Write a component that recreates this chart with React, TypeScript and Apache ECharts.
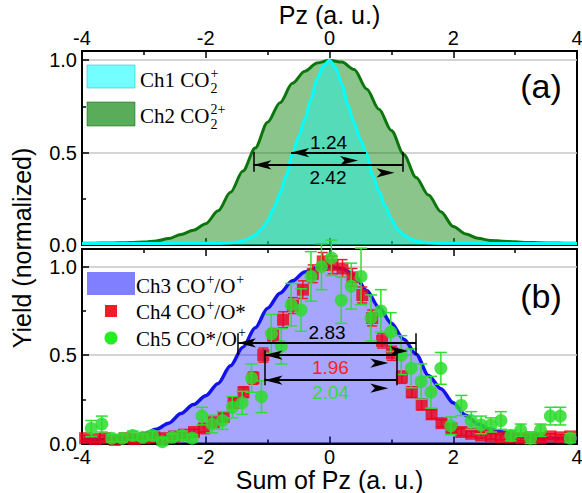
import React, { useEffect, useRef } from "react";
import * as echarts from "echarts";

const SANS = "'Liberation Sans', Arial, sans-serif";
const SERIF = "'Liberation Serif', 'Times New Roman', serif";

// ---- axis ticks ----
const xTickValues = [-4, -2, 0, 2, 4];
const yTickValues = [0, 0.5, 1.0];

// ---- (a) Ch1 CO2+ ----
const ch1X = [-4, -3, -2.4, -2.0, -1.8, -1.6, -1.5, -1.4, -1.3, -1.2, -1.1, -1.0, -0.9, -0.8, -0.7, -0.6, -0.5, -0.4, -0.3, -0.2, -0.1, 0, 0.1, 0.2, 0.3, 0.4, 0.5, 0.6, 0.7, 0.8, 0.9, 1.0, 1.1, 1.2, 1.3, 1.4, 1.5, 1.6, 1.8, 2.0, 2.4, 3, 4];
const ch1Y = [0.008, 0.008, 0.009, 0.01, 0.01, 0.012, 0.015, 0.022, 0.035, 0.055, 0.085, 0.13, 0.2, 0.28, 0.375, 0.49, 0.585, 0.68, 0.79, 0.9, 0.97, 1.0, 0.96, 0.87, 0.755, 0.66, 0.57, 0.49, 0.375, 0.29, 0.21, 0.14, 0.085, 0.055, 0.034, 0.022, 0.015, 0.012, 0.01, 0.01, 0.009, 0.008, 0.008];

// ---- (a) Ch2 CO2 2+ ----
const ch2X = [-4, -3.8, -3.6, -3.4, -3.2, -3.0, -2.8, -2.6, -2.4, -2.2, -2.0, -1.8, -1.6, -1.4, -1.2, -1.0, -0.8, -0.6, -0.4, -0.2, 0, 0.2, 0.4, 0.6, 0.8, 1.0, 1.2, 1.4, 1.6, 1.8, 2.0, 2.2, 2.4, 2.6, 2.8, 3.0, 3.2, 3.4, 3.6, 3.8, 4.0];
const ch2Y = [0.01, 0.01, 0.011, 0.012, 0.013, 0.016, 0.022, 0.035, 0.057, 0.08, 0.115, 0.185, 0.285, 0.4, 0.525, 0.665, 0.77, 0.875, 0.94, 0.985, 1.0, 0.99, 0.95, 0.845, 0.735, 0.62, 0.49, 0.365, 0.27, 0.18, 0.1, 0.06, 0.036, 0.025, 0.02, 0.017, 0.014, 0.012, 0.011, 0.01, 0.01];

// ---- (b) Ch3 CO+/O+ ----
const ch3X = [-4, -3.8, -3.6, -3.4, -3.2, -3.0, -2.8, -2.6, -2.4, -2.2, -2.0, -1.8, -1.6, -1.4, -1.2, -1.0, -0.8, -0.6, -0.4, -0.2, 0, 0.2, 0.4, 0.6, 0.8, 1.0, 1.2, 1.4, 1.6, 1.8, 2.0, 2.2, 2.4, 2.6, 2.8, 3.0, 3.2, 3.4, 3.6, 3.8, 4.0];
const ch3Y = [0.02, 0.02, 0.025, 0.03, 0.04, 0.055, 0.08, 0.115, 0.17, 0.22, 0.27, 0.34, 0.44, 0.545, 0.655, 0.765, 0.85, 0.92, 0.97, 0.995, 1.0, 0.99, 0.955, 0.865, 0.77, 0.68, 0.59, 0.505, 0.385, 0.31, 0.23, 0.16, 0.11, 0.08, 0.065, 0.045, 0.035, 0.03, 0.03, 0.03, 0.03];

// ---- (b) Ch4 CO+/O* ----
const ch4X = [-3.95, -3.79, -3.63, -3.47, -3.31, -3.15, -2.99, -2.83, -2.67, -2.51, -2.35, -2.19, -2.03, -1.87, -1.71, -1.55, -1.39, -1.23, -1.07, -0.91, -0.75, -0.59, -0.43, -0.27, -0.11, 0.05, 0.21, 0.37, 0.53, 0.69, 0.85, 1.01, 1.17, 1.33, 1.49, 1.65, 1.81, 1.97, 2.13, 2.29, 2.45, 2.61, 2.77, 2.93, 3.09, 3.25, 3.41, 3.57, 3.73, 3.89];
const ch4Y = [0.03, 0.025, 0.03, 0.02, 0.03, 0.025, 0.03, 0.035, 0.03, 0.04, 0.05, 0.065, 0.085, 0.12, 0.15, 0.23, 0.29, 0.37, 0.5, 0.61, 0.7, 0.78, 0.87, 0.96, 1.03, 1.01, 0.99, 0.94, 0.84, 0.71, 0.58, 0.51, 0.375, 0.29, 0.22, 0.165, 0.115, 0.085, 0.065, 0.055, 0.045, 0.04, 0.035, 0.035, 0.03, 0.035, 0.03, 0.04, 0.035, 0.04];
const ch4Err = [0.015, 0.015, 0.015, 0.015, 0.015, 0.015, 0.015, 0.015, 0.015, 0.015, 0.015, 0.015, 0.02, 0.02, 0.025, 0.03, 0.03, 0.035, 0.04, 0.04, 0.045, 0.045, 0.05, 0.05, 0.05, 0.05, 0.05, 0.05, 0.045, 0.045, 0.04, 0.04, 0.035, 0.03, 0.03, 0.025, 0.02, 0.02, 0.02, 0.015, 0.015, 0.015, 0.015, 0.015, 0.015, 0.015, 0.015, 0.015, 0.015, 0.015];

// ---- (b) Ch5 CO*/O+ ----
const ch5X = [-3.85, -3.68, -3.52, -3.35, -3.18, -3.02, -2.86, -2.7, -2.54, -2.38, -2.22, -2.06, -1.9, -1.73, -1.57, -1.41, -1.26, -1.1, -0.94, -0.78, -0.62, -0.46, -0.3, -0.13, 0.03, 0.19, 0.35, 0.51, 0.67, 0.83, 0.99, 1.16, 1.32, 1.48, 1.64, 1.8, 1.96, 2.13, 2.29, 2.45, 2.61, 2.77, 2.93, 3.09, 3.25, 3.41, 3.57, 3.73, 3.89];
const ch5Y = [0.085, 0.11, 0.03, 0.03, 0.045, 0.035, 0.045, 0.01, 0.035, 0.045, 0.03, 0.155, 0.11, 0.13, 0.205, 0.23, 0.37, 0.265, 0.62, 0.55, 0.785, 0.755, 0.945, 1.0, 1.05, 0.81, 0.89, 0.945, 0.71, 0.75, 0.63, 0.5, 0.425, 0.35, 0.29, 0.425, 0.1, 0.215, 0.13, 0.105, 0.105, 0.13, 0.045, 0.075, 0.03, 0.075, 0.155, 0.155, 0.03];
const ch5Err = [0.045, 0.045, 0.02, 0.02, 0.025, 0.02, 0.025, 0.02, 0.02, 0.025, 0.02, 0.05, 0.05, 0.05, 0.06, 0.065, 0.08, 0.09, 0.11, 0.1, 0.12, 0.12, 0.14, 0.13, 0.1, 0.13, 0.13, 0.16, 0.13, 0.12, 0.11, 0.11, 0.11, 0.1, 0.09, 0.09, 0.05, 0.057, 0.05, 0.05, 0.04, 0.05, 0.03, 0.035, 0.03, 0.035, 0.05, 0.05, 0.025];

// ---- FWHM annotations (data coordinates) ----
const fwhmTop = [
  { label: "1.24", x1: -0.62, x2: 0.59, y: 0.5, side: "above", color: "#000000" },
  { label: "2.42", x1: -1.23, x2: 1.18, y: 0.434, side: "below", color: "#000000" },
];
const barsTop = [
  { x: -1.23, y1: 0.397, y2: 0.505 },
  { x: 1.18, y1: 0.397, y2: 0.505 },
];
const fwhmBottom = [
  { label: "2.83", x1: -1.48, x2: 1.4, y: 0.569, side: "above", color: "#000000" },
  { label: "1.96", x1: -1.05, x2: 1.08, y: 0.5, side: "below", color: "#ff1f1f" },
  { label: "2.04", x1: -1.05, x2: 1.08, y: 0.358, side: "below", color: "#33dd33" },
];
const barsBottom = [
  { x: -1.48, y1: 0.5, y2: 0.624 },
  { x: 1.4, y1: 0.5, y2: 0.624 },
  { x: -1.05, y1: 0.33, y2: 0.528 },
  { x: 1.08, y1: 0.33, y2: 0.528 },
];

const zip = (xs: number[], ys: number[]) => xs.map((x, i) => [x, ys[i]]);

let ctx2d: CanvasRenderingContext2D | null = null;
const measure = (t: string, size: number, fam: string) => {
  if (!ctx2d) ctx2d = document.createElement("canvas").getContext("2d");
  if (!ctx2d) return t.length * size * 0.5;
  ctx2d.font = `${size}px ${fam}`;
  return ctx2d.measureText(t).width;
};

type Part = { n?: string; sup?: string; sub?: string };
const LF = 21;
const SF = 14;
const legendText = (x0: number, yc: number, parts: Part[]) => {
  const els: any[] = [];
  let x = x0;
  for (const p of parts) {
    if (p.n) {
      els.push({ type: "text", x, y: yc, style: { text: p.n, fontSize: LF, fontFamily: SERIF, fill: "#000", textAlign: "left", textVerticalAlign: "middle" } });
      x += measure(p.n, LF, SERIF);
    } else {
      let w = 0;
      if (p.sup) {
        els.push({ type: "text", x: x + 1, y: yc - 7, style: { text: p.sup, fontSize: SF, fontFamily: SERIF, fill: "#000", textAlign: "left", textVerticalAlign: "middle" } });
        w = Math.max(w, measure(p.sup, SF, SERIF));
      }
      if (p.sub) {
        els.push({ type: "text", x: x + 1, y: yc + 8, style: { text: p.sub, fontSize: SF, fontFamily: SERIF, fill: "#000", textAlign: "left", textVerticalAlign: "middle" } });
        w = Math.max(w, measure(p.sub, SF, SERIF));
      }
      x += w + 1;
    }
  }
  return els;
};

const markLineData = (arrows: any[], bars: any[]) => [
  ...arrows.map((a) => [
    {
      coord: [a.x1, a.y],
      symbol: "arrow",
      lineStyle: { color: "#000", width: 2 },
      label: {
        show: true,
        formatter: a.label,
        position: a.side === "above" ? "insideMiddleTop" : "insideMiddleBottom",
        distance: a.side === "above" ? 1 : 3,
        color: a.color,
        fontSize: 19,
        fontFamily: SANS,
      },
    },
    { coord: [a.x2, a.y], symbol: "arrow" },
  ]),
  ...bars.map((b) => [
    { coord: [b.x, b.y1], symbol: "none", label: { show: false }, lineStyle: { color: "#000", width: 1.5 } },
    { coord: [b.x, b.y2], symbol: "none" },
  ]),
];

const markLineBase = {
  silent: true,
  animation: false,
  symbolSize: [7, 18],
  symbolOffset: [0, 8],
  lineStyle: { color: "#000", width: 2, type: "solid" },
  label: { show: false },
  emphasis: { disabled: true },
};

const errorBarSeries = (xs: number[], ys: number[], es: number[], color: string, capHalf: number, xi: number, yi: number, z: number) => ({
  type: "custom",
  xAxisIndex: xi,
  yAxisIndex: yi,
  z,
  silent: true,
  data: xs.map((x, i) => [x, ys[i] - es[i], ys[i] + es[i]]),
  encode: { x: 0, y: [1, 2] },
  renderItem: (_params: any, api: any) => {
    const x = api.value(0);
    const lo = api.coord([x, api.value(1)]);
    const hi = api.coord([x, api.value(2)]);
    const st = { stroke: color, lineWidth: 1.5 };
    return {
      type: "group",
      children: [
        { type: "line", shape: { x1: lo[0], y1: lo[1], x2: hi[0], y2: hi[1] }, style: st },
        { type: "line", shape: { x1: lo[0] - capHalf, y1: lo[1], x2: lo[0] + capHalf, y2: lo[1] }, style: st },
        { type: "line", shape: { x1: hi[0] - capHalf, y1: hi[1], x2: hi[0] + capHalf, y2: hi[1] }, style: st },
      ],
    };
  },
});

const axisLine = { show: true, onZero: false, lineStyle: { color: "#000", width: 2 } };
const axisTick = { show: true, inside: true, length: 7, lineStyle: { color: "#000", width: 1.5 } };
const minorTick = { show: true, splitNumber: 2, length: 4, lineStyle: { color: "#000", width: 1.5 } };
const tickFont = { fontSize: 20, color: "#000", fontFamily: SANS };
const titleFont = { fontSize: 25, color: "#000", fontFamily: SANS };

const xAxis = (gridIndex: number, position: string, showLabels: boolean, name?: string, nameGap?: number) => ({
  type: "value",
  gridIndex,
  position,
  min: -4,
  max: 4,
  interval: 2,
  axisLine,
  axisTick,
  minorTick,
  splitLine: { show: false },
  axisLabel: {
    show: showLabels,
    ...tickFont,
    margin: 3,
    formatter: (v: number) => (xTickValues.includes(v) ? String(v) : ""),
  },
  name: name || "",
  nameLocation: "middle",
  nameGap: nameGap || 0,
  nameTextStyle: titleFont,
});

const yAxis = (gridIndex: number, max: number) => ({
  type: "value",
  gridIndex,
  min: 0,
  max,
  interval: 0.5,
  axisLine,
  axisTick,
  minorTick,
  splitLine: { show: true, lineStyle: { color: "#c6c6c6", width: 1.5 } },
  axisLabel: {
    ...tickFont,
    margin: 5,
    formatter: (v: number) => (yTickValues.some((t) => Math.abs(t - v) < 1e-9) ? v.toFixed(1) : ""),
  },
});

export default function App() {
  const ref = useRef<HTMLDivElement>(null);
  useEffect(() => {
    document.body.style.margin = "0";
    const chart = echarts.init(ref.current!, null, { renderer: "svg" });

    const graphics: any[] = [
      {
        type: "text",
        x: 22,
        y: 248,
        rotation: Math.PI / 2,
        style: { text: "Yield (normalized)", ...titleFont, fill: "#000", textAlign: "center", textVerticalAlign: "middle" },
      },
      { type: "text", x: 541, y: 86, style: { text: "(a)", fontSize: 34, fontFamily: SANS, fill: "#000", textAlign: "center", textVerticalAlign: "middle" } },
      { type: "text", x: 541, y: 296, style: { text: "(b)", fontSize: 34, fontFamily: SANS, fill: "#000", textAlign: "center", textVerticalAlign: "middle" } },
      // legend (a)
      { type: "rect", shape: { x: 87, y: 65, width: 48, height: 23 }, style: { fill: "rgba(0,255,255,0.55)", stroke: "rgba(0,190,190,0.5)", lineWidth: 1 } },
      { type: "rect", shape: { x: 87, y: 102, width: 48, height: 24 }, style: { fill: "rgba(0,128,0,0.65)", stroke: "rgba(0,100,0,0.5)", lineWidth: 1 } },
      ...legendText(140, 80, [{ n: "Ch1 CO" }, { sup: "+", sub: "2" }]),
      ...legendText(140, 116, [{ n: "Ch2 CO" }, { sup: "2+", sub: "2" }]),
      // legend (b)
      { type: "rect", shape: { x: 87, y: 272, width: 48, height: 23 }, style: { fill: "rgba(0,0,255,0.5)" } },
      { type: "rect", shape: { x: 105, y: 305, width: 12, height: 12 }, style: { fill: "#f01c28" } },
      { type: "circle", shape: { cx: 111, cy: 338, r: 6.5 }, style: { fill: "#22ee22" } },
      ...legendText(136, 286, [{ n: "Ch3 CO" }, { sup: "+" }, { n: "/O" }, { sup: "+" }]),
      ...legendText(136, 312, [{ n: "Ch4 CO" }, { sup: "+" }, { n: "/O*" }]),
      ...legendText(136, 339, [{ n: "Ch5 CO*/O" }, { sup: "+" }]),
    ];

    const option: any = {
      animation: false,
      backgroundColor: "#ffffff",
      grid: [
        { left: 82, top: 51, width: 495, height: 194, show: true, borderColor: "#000", borderWidth: 2, backgroundColor: "transparent", containLabel: false, outerBoundsMode: "none" },
        { left: 82, top: 249, width: 495, height: 194.5, show: true, borderColor: "#000", borderWidth: 2, backgroundColor: "transparent", containLabel: false, outerBoundsMode: "none" },
      ],
      xAxis: [
        xAxis(0, "bottom", false),
        xAxis(0, "top", true, "Pz (a. u.)", 23),
        xAxis(1, "bottom", true, "Sum of Pz (a. u.)", 21),
        xAxis(1, "top", false),
      ],
      yAxis: [yAxis(0, 1.05), yAxis(1, 1.1)],
      series: [
        {
          name: "Ch2",
          type: "line",
          xAxisIndex: 1,
          yAxisIndex: 0,
          z: 1,
          data: zip(ch2X, ch2Y),
          showSymbol: false,
          smooth: 0.3,
          smoothMonotone: "x",
          lineStyle: { color: "#0b760b", width: 3 },
          areaStyle: { color: "rgba(0,128,0,0.65)" },
          silent: true,
        },
        {
          name: "Ch1",
          type: "line",
          xAxisIndex: 1,
          yAxisIndex: 0,
          z: 2,
          data: zip(ch1X, ch1Y),
          showSymbol: false,
          smooth: 0.3,
          smoothMonotone: "x",
          lineStyle: { color: "#00ffff", width: 3 },
          areaStyle: { color: "rgba(0,255,255,0.55)" },
          silent: true,
          markLine: { ...markLineBase, data: markLineData(fwhmTop, barsTop) },
        },
        {
          name: "Ch3",
          type: "line",
          xAxisIndex: 2,
          yAxisIndex: 1,
          z: 1,
          data: zip(ch3X, ch3Y),
          showSymbol: false,
          smooth: 0.3,
          smoothMonotone: "x",
          lineStyle: { color: "#1212f0", width: 3.5 },
          areaStyle: { color: "rgba(0,0,255,0.5)" },
          silent: true,
        },
        errorBarSeries(ch4X, ch4Y, ch4Err, "#ee1c30", 5, 2, 1, 3),
        {
          name: "Ch4",
          type: "scatter",
          xAxisIndex: 2,
          yAxisIndex: 1,
          z: 4,
          data: zip(ch4X, ch4Y),
          symbol: "rect",
          symbolSize: 12,
          itemStyle: { color: "rgba(235,0,25,0.8)", opacity: 1, borderWidth: 0 },
          silent: true,
        },
        errorBarSeries(ch5X, ch5Y, ch5Err, "#2ee02e", 6, 2, 1, 5),
        {
          name: "Ch5",
          type: "scatter",
          xAxisIndex: 2,
          yAxisIndex: 1,
          z: 6,
          data: zip(ch5X, ch5Y),
          symbol: "circle",
          symbolSize: 13,
          itemStyle: { color: "rgba(45,220,45,0.85)", opacity: 1, borderWidth: 0 },
          silent: true,
          markLine: { ...markLineBase, z: 10, data: markLineData(fwhmBottom, barsBottom) },
        },
      ],
      graphic: graphics,
    };

    chart.setOption(option);
    return () => chart.dispose();
  }, []);

  return <div ref={ref} style={{ position: "fixed", left: 0, top: 0, width: 582, height: 493, background: "#fff" }} />;
}
